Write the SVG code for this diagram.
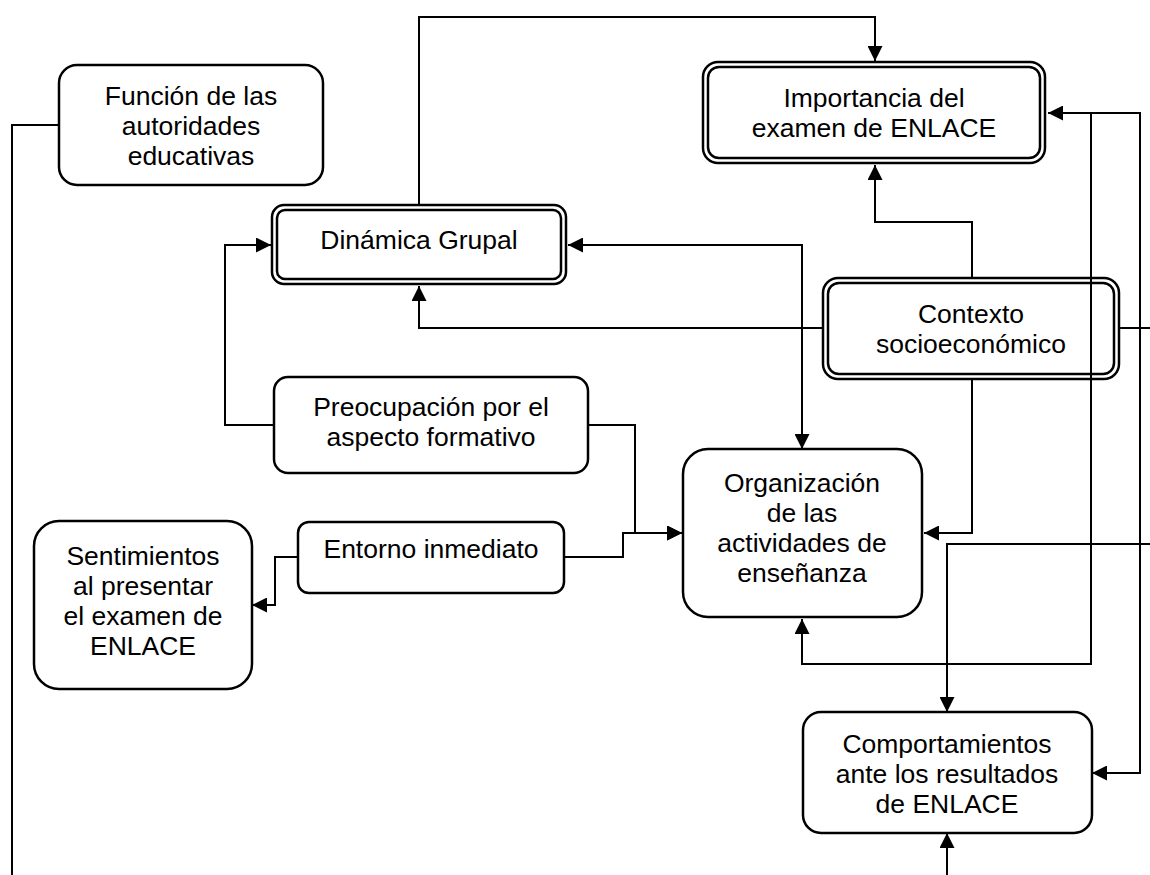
<svg xmlns="http://www.w3.org/2000/svg" width="1150" height="875" viewBox="0 0 1150 875">
<style>
.box{fill:#fff;stroke:#000;stroke-width:2.5}
.t{font-family:"Liberation Sans",Arial,sans-serif;font-size:26.5px;fill:#000;text-anchor:middle}
.c{fill:none;stroke:#000;stroke-width:2}
.a{marker-end:url(#ah)}
.b{marker-start:url(#ah);marker-end:url(#ah)}
</style>
<defs>
<marker id="ah" markerUnits="userSpaceOnUse" markerWidth="15" markerHeight="15" refX="15" refY="7.5" orient="auto-start-reverse">
<path d="M0,0 L15,7.5 L0,15 Z" fill="#000"/>
</marker>
</defs>
<rect width="1150" height="875" fill="#fff"/>
<g id="funcion">
<rect class="box" x="59" y="65" width="264" height="120" rx="18"/>
<text class="t" x="191" y="105">Función de las</text>
<text class="t" x="191" y="135">autoridades</text>
<text class="t" x="191" y="165">educativas</text>
</g>
<g id="importancia">
<rect class="box" x="703" y="62" width="342" height="101" rx="15"/>
<rect class="box" x="708" y="67" width="332" height="91" rx="11"/>
<text class="t" x="874" y="107">Importancia del</text>
<text class="t" x="874" y="137">examen de ENLACE</text>
</g>
<g id="dinamica">
<rect class="box" x="272" y="205" width="294" height="79" rx="12"/>
<rect class="box" x="277" y="210" width="284" height="69" rx="8"/>
<text class="t" x="419" y="249">Dinámica Grupal</text>
</g>
<g id="contexto">
<rect class="box" x="823" y="278" width="296" height="101" rx="15"/>
<rect class="box" x="828" y="283" width="286" height="91" rx="11"/>
<text class="t" x="971" y="323">Contexto</text>
<text class="t" x="971" y="353">socioeconómico</text>
</g>
<g id="preocupacion">
<rect class="box" x="274" y="377" width="314" height="96" rx="14"/>
<text class="t" x="431" y="416">Preocupación por el</text>
<text class="t" x="431" y="446">aspecto formativo</text>
</g>
<g id="organizacion">
<rect class="box" x="683" y="449" width="239" height="168" rx="25"/>
<text class="t" x="802" y="492">Organización</text>
<text class="t" x="802" y="522">de las</text>
<text class="t" x="802" y="552">actividades de</text>
<text class="t" x="802" y="582">enseñanza</text>
</g>
<g id="entorno">
<rect class="box" x="298" y="522" width="266" height="71" rx="11"/>
<text class="t" x="431" y="558">Entorno inmediato</text>
</g>
<g id="sentimientos">
<rect class="box" x="34" y="521" width="218" height="168" rx="25"/>
<text class="t" x="143" y="565">Sentimientos</text>
<text class="t" x="143" y="595">al presentar</text>
<text class="t" x="143" y="625">el examen de</text>
<text class="t" x="143" y="655">ENLACE</text>
</g>
<g id="comportamientos">
<rect class="box" x="803" y="712" width="289" height="121" rx="18"/>
<text class="t" x="947" y="753">Comportamientos</text>
<text class="t" x="947" y="783">ante los resultados</text>
<text class="t" x="947" y="813">de ENLACE</text>
</g>
<g id="connectors">
<path class="c a" d="M419,205 V17 H875 V61"/>
<path class="c a" d="M972,278 V222 H875 V165"/>
<path class="c a" d="M823,328 H419 V286"/>
<path class="c a" d="M972,379 V533 H924"/>
<path class="c b" d="M568,245 H802 V449"/>
<path class="c a" d="M274,425 H225 V245 H271"/>
<path class="c a" d="M588,425 H635 V533 H682"/>
<path class="c a" d="M564,557 H623 V533 H682"/>
<path class="c a" d="M298,557 H275 V605 H252"/>
<path class="c" d="M59,125 H12 V875"/>
<path class="c b" d="M1048,113 H1140 V773 H1092"/>
<path class="c a" d="M1091,113 V664 H802 V619"/>
<path class="c" d="M1119,328 H1150"/>
<path class="c a" d="M1150,544 H947 V712"/>
<path class="c a" d="M947,875 V833"/>
</g>
</svg>
